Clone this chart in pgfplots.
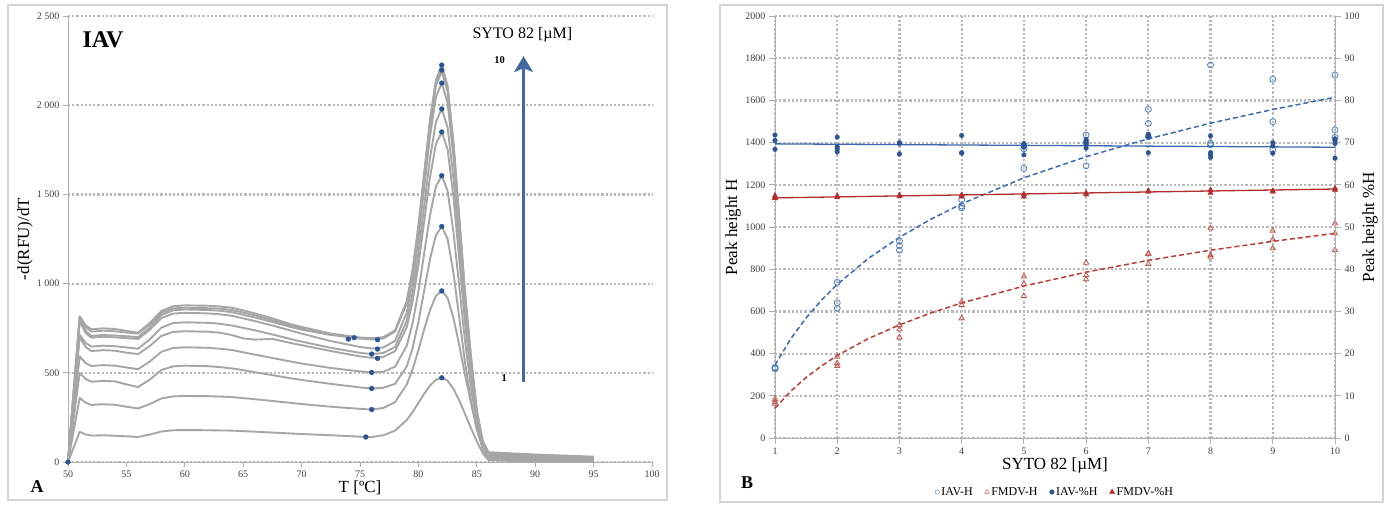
\documentclass[border=0pt]{standalone}
\usepackage{pgfplots}
\pgfplotsset{compat=1.18}
\usepackage{pgfplotstable}
\usepackage{fontspec}
\setmainfont{Liberation Serif}
\usetikzlibrary{arrows.meta}
\definecolor{curvegray}{RGB}{166,166,166}
\definecolor{gridgray}{RGB}{186,186,186}
\definecolor{axgray}{RGB}{175,175,175}
\definecolor{dotblue}{RGB}{45,85,150}
\definecolor{arrowblue}{RGB}{65,105,160}
\definecolor{iavblue}{RGB}{79,129,189}
\definecolor{fmdvred}{RGB}{200,85,80}
\definecolor{darkred}{RGB}{180,45,45}
\definecolor{trendblue}{RGB}{60,105,175}
\definecolor{trendred}{RGB}{190,60,55}
\definecolor{framegray}{RGB}{212,212,212}

\pgfplotstableread{
T    c1  c2  c3   c4   c5   c6   c7   c8   c9   c10
50   0   0   0    0    0    0    0    0    0    0
51   169 359 500  592  700  714  790  805  812  817
51.5 155 333 466  555  645  667  724  735  755  766
52   148 320 450  538  622  647  697  707  731  744
53   150 324 455  543  627  652  702  712  736  749
54   147 321 452  540  624  649  699  709  733  746
55   144 310 435  530  613  642  694  705  726  735
56   140 300 420  520  605  635  690  700  720  725
57   154 325 462  563  650  687  741  754  771  779
58   171 356 516  618  707  753  807  824  836  847
59   178 368 536  639  729  779  832  850  861  873
60   179 370 540  643  733  783  836  855  865  878
62   178 369 537  640  730  780  833  852  862  876
63   177 367 532  635  725  775  828  848  860  872
64   176 364 525  628  712  765  820  840  852  865
65   173 358 515  615  693  752  805  825  838  850
66   170 352 503  602  686  738  790  810  822  833
67.5 165 342 487  583  690  715  765  785  795  805
69   160 332 470  564  668  690  738  758  766  774
70   157 325 460  552  655  675  720  742  750  757
72.5 150 310 438  527  622  640  678  712  716  720
75   142 298 418  508  592  612  645  692  695  698
76   140 294 412  502  584  605  636  687  690  694
77   150 303 416  506  589  611  642  693  696  700
78   176 336 438  534  621  645  679  731  734  738
79   235 434 535  651  755  791  837  890  895  901
79.5 280 519 638  777  899  947  1007 1061 1068 1075
80   331 627 785  955  1104 1170 1248 1305 1315 1323
80.5 383 745 963  1172 1352 1440 1540 1599 1613 1623
81   429 853 1139 1386 1598 1706 1829 1891 1908 1920
81.5 461 931 1271 1545 1782 1906 2045 2109 2128 2142
82   472 959 1320 1605 1850 1980 2125 2190 2210 2225
82.5 456 919 1250 1520 1752 1875 2012 2074 2093 2108
83   410 808 1061 1290 1487 1593 1710 1763 1779 1792
83.5 345 654 808  983  1134 1215 1305 1346 1360 1370
84   268 486 553  673  777  833  896  925  935  944
84.5 190 333 342  416  482  518  558  577  585  592
85   115 180 195  215  235  250  270  280  285  290
85.5 50  75  80   85   90   100  105  110  115  120
86   10  16  22   26   32   38   43   47   51   55
88   6   12  17   21   26   31   36   40   44   48
90   5   10  15   18   23   27   31   35   39   42
95   3   6   9    12   15   18   20   24   27   30
}\meltcurves

\begin{document}
\begin{tikzpicture}
\useasboundingbox (0pt,0pt) rectangle (1384pt,504pt);
\fill[white] (0pt,0pt) rectangle (1384pt,504pt);
\draw[framegray, line width=1.2pt] (8pt,4pt) rectangle (667pt,499pt);
\draw[framegray, line width=1.2pt] (720pt,2pt) rectangle (1383pt,499pt);

% ---------------- Panel A ----------------
\begin{axis}[
  at={(68pt,42pt)}, anchor=south west,
  scale only axis, width=584pt, height=446pt,
  xmin=50, xmax=100, ymin=0, ymax=2500,
  xtick={50,55,...,100}, ytick={0,500,...,2500},
  yticklabels={0,500,1 000,1 500,2 000,2 500},
  axis x line*=bottom, axis y line*=left,
  axis line style={axgray, line width=1pt, -},
  tick style={axgray, line width=0.8pt},
  tick align=outside, major tick length=5pt,
  ymajorgrids, grid style={gridgray, line width=2.2pt, dash pattern=on 2.2pt off 2pt},
  ticklabel style={font=\fontsize{10}{10}\selectfont, text=black!75},
  /pgf/number format/assume math mode=true,
  xlabel={T [ºC]}, ylabel={-d(RFU)/dT},
  label style={font=\fontsize{17}{17}\selectfont},
  xlabel style={at={(axis description cs:0.5,-0.058)}, anchor=center},
  ylabel style={at={(axis description cs:-0.0736,0.5)}, anchor=center},
  clip=false,
]
\pgfplotsinvokeforeach{1,...,10}{
  \addplot[curvegray, line width=1.9pt, line join=round] table[x=T, y=c#1] {\meltcurves};
}
\addplot[only marks, mark=*, mark size=2.4pt, dotblue] coordinates {
  (50,0) (82,472) (82,959) (82,1320) (82,1605) (82,1850) (82,1979) (82,2124) (82,2197) (82,2225)
  (75.5,140) (76,294) (76,412) (76,502) (76.5,581) (76,605) (76.5,633) (76.5,685) (74,689) (74.5,697)
};
\draw[arrowblue, line width=2.2pt, -{Stealth[length=16pt,width=19pt,inset=4pt]}] (axis cs:89,451) -- (axis cs:89,2275);
\node[font=\bfseries\fontsize{24}{24}\selectfont] at (axis cs:53,2366) {IAV};
\node[font=\fontsize{16}{16}\selectfont] at (axis cs:88.9,2396) {SYTO 82 [µM]};
\node[font=\bfseries\fontsize{10.5}{10.5}\selectfont] at (axis cs:86.96,2253) {10};
\node[font=\bfseries\fontsize{10.5}{10.5}\selectfont] at (axis cs:87.35,471) {1};
\end{axis}

% ---------------- Panel B (left axis) ----------------
\begin{axis}[
  at={(775pt,66pt)}, anchor=south west,
  scale only axis, width=560pt, height=422pt,
  xmin=1, xmax=10, ymin=0, ymax=2000,
  xtick={1,...,10}, ytick={0,200,...,2000},
  axis x line*=bottom, axis y line*=left,
  axis line style={axgray, line width=1pt, -},
  tick style={axgray, line width=0.8pt},
  tick align=outside, major tick length=6pt,
  grid=major, grid style={gridgray, line width=2.2pt, dash pattern=on 2.2pt off 2pt},
  ticklabel style={font=\fontsize{10}{10}\selectfont, text=black!75},
  /pgf/number format/assume math mode=true,
  /pgf/number format/1000 sep={},
  xlabel={SYTO 82 [µM]}, ylabel={Peak height H},
  label style={font=\fontsize{17}{17}\selectfont},
  xlabel style={at={(axis description cs:0.5,-0.066)}, anchor=center},
  ylabel style={at={(axis description cs:-0.075,0.5)}, anchor=center},
  clip=false,
]
\addplot[trendblue, line width=1.5pt, dash pattern=on 5pt off 3pt] coordinates {
  (1,346) (1.25,469) (1.5,569) (1.75,654) (2,728) (2.5,851) (3,951) (3.5,1036) (4,1110)
  (5,1233) (6,1333) (7,1418) (8,1492) (9,1557) (10,1615)
};
\addplot[trendred, line width=1.5pt, dash pattern=on 5pt off 3pt] coordinates {
  (1,141) (1.25,221) (1.5,287) (1.75,342) (2,391) (2.5,471) (3,536) (3.5,592) (4,640)
  (5,720) (6,786) (7,842) (8,890) (9,932) (10,970)
};
\addplot[only marks, mark=o, mark size=3pt, iavblue, mark options={line width=0.8pt}] coordinates {
  (1,335) (1,328) (1,332)
  (2,738) (2,641) (2,615)
  (3,935) (3,912) (3,890)
  (4,1130) (4,1100) (4,1090)
  (5,1278) (5,1370) (5,1385)
  (6,1436) (6,1400) (6,1290)
  (7,1558) (7,1491) (7,1428)
  (8,1768) (8,1397) (8,1390)
  (9,1700) (9,1499) (9,1365)
  (10,1720) (10,1460) (10,1425)
};
\addplot[only marks, mark=triangle, mark size=3pt, fmdvred, mark options={line width=0.8pt}] coordinates {
  (1,185) (1,172) (1,163)
  (2,385) (2,354) (2,341)
  (3,535) (3,515) (3,477)
  (4,646) (4,630) (4,567)
  (5,765) (5,730) (5,673)
  (6,831) (6,772) (6,752)
  (7,875) (7,872) (7,825)
  (8,994) (8,867) (8,859)
  (9,982) (9,941) (9,899)
  (10,1017) (10,970) (10,891)
};
\end{axis}

% ---------------- Panel B (right axis) ----------------
\begin{axis}[
  at={(775pt,66pt)}, anchor=south west,
  scale only axis, width=560pt, height=422pt,
  xmin=1, xmax=10, ymin=0, ymax=100,
  ytick={0,10,...,100},
  axis y line*=right, axis x line=none,
  axis line style={axgray, line width=1pt, -},
  tick style={axgray, line width=0.8pt},
  tick align=outside, major tick length=6pt,
  ticklabel style={font=\fontsize{10}{10}\selectfont, text=black!75},
  /pgf/number format/assume math mode=true,
  ylabel={Peak height \%H},
  label style={font=\fontsize{17}{17}\selectfont},
  ylabel style={at={(axis description cs:1.0625,0.5)}, anchor=center},
  legend columns=4,
  legend style={draw=none, fill=none, at={(axis description cs:0.5,-0.128)}, anchor=center,
    font=\fontsize{12}{12}\selectfont, /tikz/every even column/.append style={column sep=10pt}},
  legend cell align=left,
  clip=false,
]
\addlegendimage{only marks, mark=o, mark size=2.2pt, iavblue}
\addlegendentry{IAV-H}
\addlegendimage{only marks, mark=triangle, mark size=2.6pt, fmdvred}
\addlegendentry{FMDV-H}
\addplot[trendblue, line width=1.3pt, forget plot] coordinates {(1,69.7) (10,68.9)};
\addplot[darkred, line width=1.3pt, forget plot] coordinates {(1,56.9) (10,59.0)};
\addplot[only marks, mark=*, mark size=2.3pt, dotblue] coordinates {
  (1,71.8) (1,70.5) (1,68.4)
  (2,71.3) (2,69.0) (2,68.5) (2,67.8)
  (3,70.0) (3,69.8) (3,67.3)
  (4,71.7) (4,67.6) (4,67.5)
  (5,69.8) (5,69.3) (5,68.9) (5,67.1)
  (6,70.8) (6,70.2) (6,69.7) (6,68.7)
  (7,72.0) (7,71.6) (7,71.3) (7,67.6)
  (8,71.6) (8,67.6) (8,67.1) (8,66.5)
  (9,70.0) (9,69.2) (9,67.5)
  (10,70.9) (10,70.4) (10,69.8) (10,66.3)
};
\addlegendentry{IAV-\%H}
\addplot[only marks, mark=triangle*, mark size=3pt, darkred] coordinates {
  (1,57.4) (1,57.0) (1,56.8)
  (2,57.4) (2,57.0)
  (3,57.5) (3,57.3)
  (4,57.6) (4,57.2)
  (5,57.8) (5,57.2)
  (6,58.1) (6,57.7)
  (7,58.6) (7,58.4)
  (8,58.8) (8,58.1)
  (9,58.6) (9,58.4)
  (10,59.2) (10,58.8)
};
\addlegendentry{FMDV-\%H}
\end{axis}

\node[font=\bfseries\fontsize{18}{18}\selectfont] at (37pt,17pt) {A};
\node[font=\bfseries\fontsize{18}{18}\selectfont] at (747pt,21pt) {B};
\end{tikzpicture}
\end{document}
